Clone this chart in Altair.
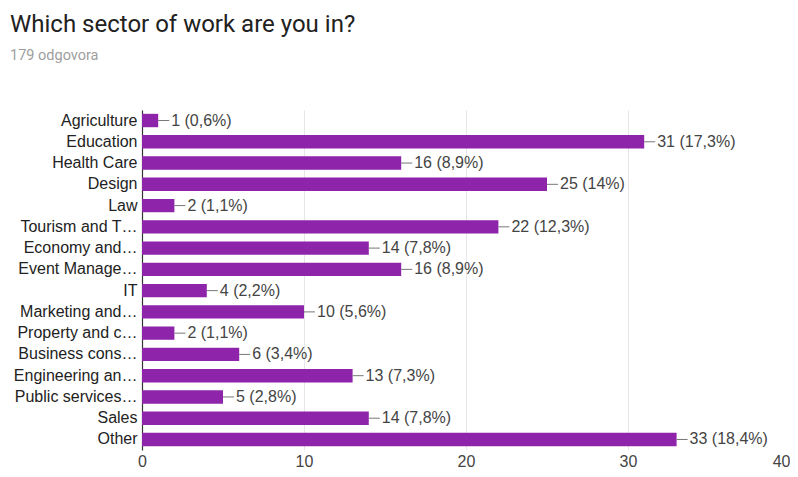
import altair as alt
import pandas as pd

categories = ["Agriculture", "Education", "Health Care", "Design", "Law",
              "Tourism and T…", "Economy and…", "Event Manage…", "IT",
              "Marketing and…", "Property and c…", "Business cons…",
              "Engineering an…", "Public services…", "Sales", "Other"]
counts = [1, 31, 16, 25, 2, 22, 14, 16, 4, 10, 2, 6, 13, 5, 14, 33]
percents = ["0,6%", "17,3%", "8,9%", "14%", "1,1%", "12,3%", "7,8%", "8,9%",
            "2,2%", "5,6%", "1,1%", "3,4%", "7,3%", "2,8%", "7,8%", "18,4%"]
x_ticks = [0, 10, 20, 30, 40]

df = pd.DataFrame({"cat": categories, "count": counts, "pct": percents})
df["label"] = df["count"].astype(str) + " (" + df["pct"] + ")"

PURPLE = "#8E24AA"
FONT = "Liberation Sans"

y_enc = alt.Y("cat:N", sort=categories, title=None,
              scale=alt.Scale(paddingInner=0.37, paddingOuter=0.18),
              axis=alt.Axis(labelFont=FONT, labelFontSize=16, labelColor="#222222",
                            labelLimit=300, ticks=False, labelPadding=5,
                            domain=True, domainColor="#333333", domainWidth=1.2))
x_enc = alt.X("count:Q", title=None,
              scale=alt.Scale(domain=[0, 40], nice=False),
              axis=alt.Axis(values=x_ticks, labelFont=FONT, labelFontSize=16,
                            labelColor="#444444", grid=True, gridColor="#e6e6e6",
                            domain=False, ticks=False, labelPadding=3,
                            labelAlign={"condition": {"test": "datum.value == 40",
                                                      "value": "right"},
                                        "value": "center"}))

base = alt.Chart(df)

bars = base.mark_bar(color=PURPLE).encode(x=x_enc, y=y_enc)

leaders = base.transform_calculate(end="datum.count + 0.68").mark_rule(
    color="#777777", strokeWidth=1).encode(
    x="count:Q", x2="end:Q", y=alt.Y("cat:N", sort=categories, bandPosition=0.5))

labels = base.mark_text(align="left", baseline="middle", dx=13, font=FONT,
                        fontSize=16, color="#444444").encode(
    x="count:Q", y=alt.Y("cat:N", sort=categories), text="label:N")

chart = alt.layer(bars, leaders, labels).properties(
    width=648, height=340,
    autosize=alt.AutoSizeParams(type="none"),
    padding={"left": 134, "top": 102, "right": 0, "bottom": 18},
    title=alt.TitleParams(
        text="Which sector of work are you in?",
        subtitle="179 odgovora",
        anchor="start", frame="group", orient="top",
        font="Roboto", fontSize=24, fontWeight="normal", color="#212121",
        subtitleFont="Roboto", subtitleFontSize=14.5, subtitleColor="#9e9e9e",
        subtitlePadding=12, dx=-132, offset=48),
).configure_view(stroke=None)

chart.save("out.html", embed_options={"renderer": "svg", "actions": False})
